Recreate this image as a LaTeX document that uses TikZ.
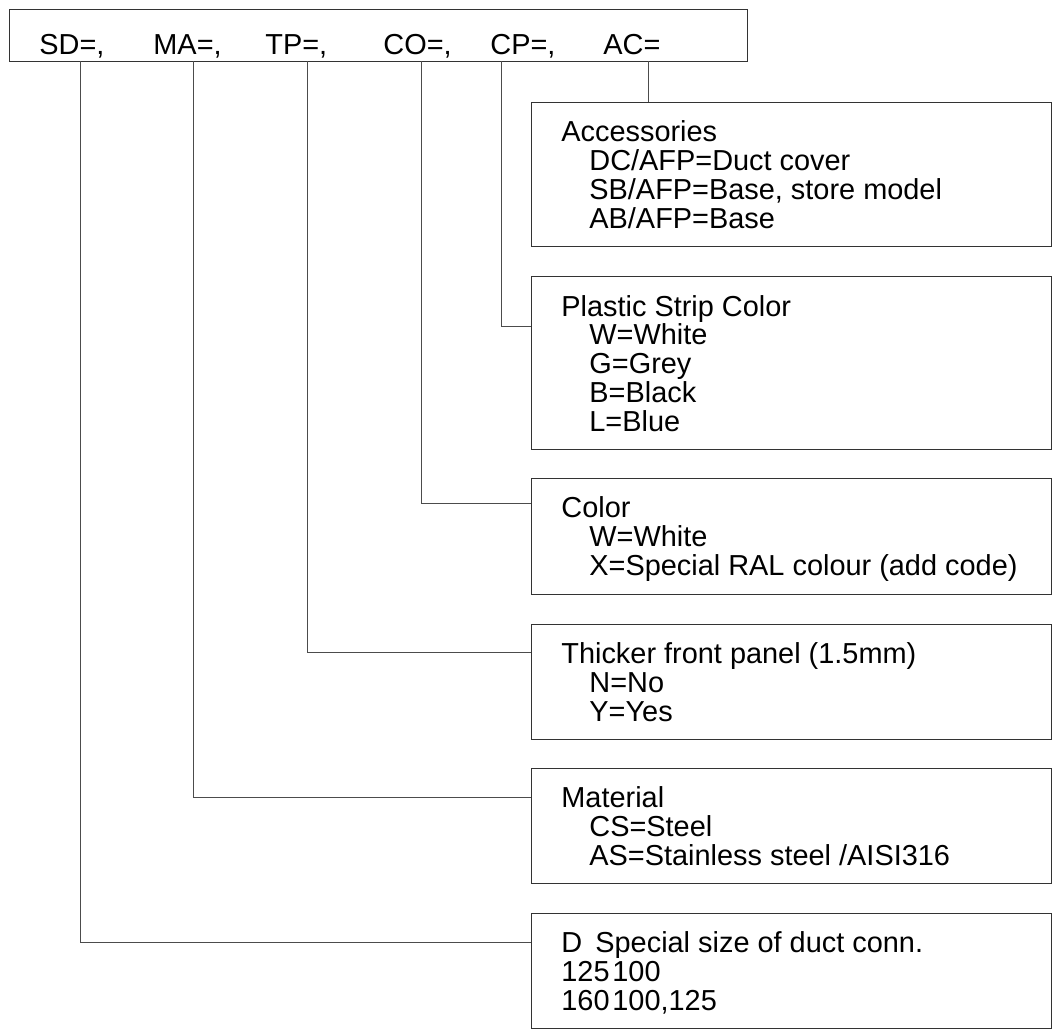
\documentclass[tikz,border=0pt]{standalone}
\usepackage{fontspec}
\setmainfont{Liberation Sans}
\usetikzlibrary{positioning,calc}

\begin{document}
\begin{tikzpicture}[x=0.5pt,y=-0.5pt,
  font=\fontsize{14.45pt}{14.35pt}\selectfont,
  bx/.style={draw=black!80,line width=0.65pt,anchor=north west,inner sep=0pt,minimum width=260pt},
  tx/.style={anchor=base west,align=left,inner sep=0pt},
  ln/.style={draw=black!70,line width=0.5pt}]
  \useasboundingbox (0,0) rectangle (1055,1030);
  % code line
  \node[bx,minimum width=369pt,minimum height=26pt] (code) at (9,9) {};
  \node[tx] (lsd) at (39,54) {SD=,};
  \node[tx] (lma) at (153,54) {MA=,};
  \node[tx] (ltp) at (265,54) {TP=,};
  \node[tx] (lco) at (383,54) {CO=,};
  \node[tx] (lcp) at (490,54) {CP=,};
  \node[tx] (lac) at (603,54) {AC=};
  \coordinate (sd) at (80,61);
  \coordinate (ma) at (193,61);
  \coordinate (tp) at (307,61);
  \coordinate (co) at (421,61);
  \coordinate (cp) at (501,61);
  \coordinate (ac) at (648,61);
  % option boxes (text placed by its last baseline)
  \node[bx,minimum height=72pt] (acc) at (531,102) {};
  \node[tx] (acct) at (561,228) {Accessories\\\hspace*{14pt}DC/AFP=Duct cover\\\hspace*{14pt}SB/AFP=Base, store model\\\hspace*{14pt}AB/AFP=Base};
  \node[bx,minimum height=86.5pt] (strip) at (531,276) {};
  \node[tx] (stript) at (561,431) {Plastic Strip Color\\\hspace*{14pt}W=White\\\hspace*{14pt}G=Grey\\\hspace*{14pt}B=Black\\\hspace*{14pt}L=Blue};
  \node[bx,minimum height=58pt] (col) at (531,478) {};
  \node[tx] (colt) at (561,575) {Color\\\hspace*{14pt}W=White\\\hspace*{14pt}X=Special RAL colour (add code)};
  \node[bx,minimum height=57.5pt] (thick) at (531,624) {};
  \node[tx] (thickt) at (561,721) {Thicker front panel (1.5mm)\\\hspace*{14pt}N=No\\\hspace*{14pt}Y=Yes};
  \node[bx,minimum height=57.5pt] (mat) at (531,768) {};
  \node[tx] (matt) at (561,865) {Material\\\hspace*{14pt}CS=Steel\\\hspace*{14pt}AS=Stainless steel /AISI316};
  \node[bx,minimum height=57.5pt] (size) at (531,913) {};
  \node[tx] (sizet) at (561,1010) {\makebox[17pt][l]{D}Special size of duct conn.\\\makebox[25.5pt][l]{125}100\\\makebox[25.5pt][l]{160}100,125};
  % connectors
  \draw[ln] (ac) -- (ac |- acc.north);
  \draw[ln] (cp) |- ($(strip.north west)+(0,50)$);
  \draw[ln] (co) |- ($(col.north west)+(0,25)$);
  \draw[ln] (tp) |- ($(thick.north west)+(0,28)$);
  \draw[ln] (ma) |- ($(mat.north west)+(0,29)$);
  \draw[ln] (sd) |- ($(size.north west)+(0,29)$);
\end{tikzpicture}
\end{document}
